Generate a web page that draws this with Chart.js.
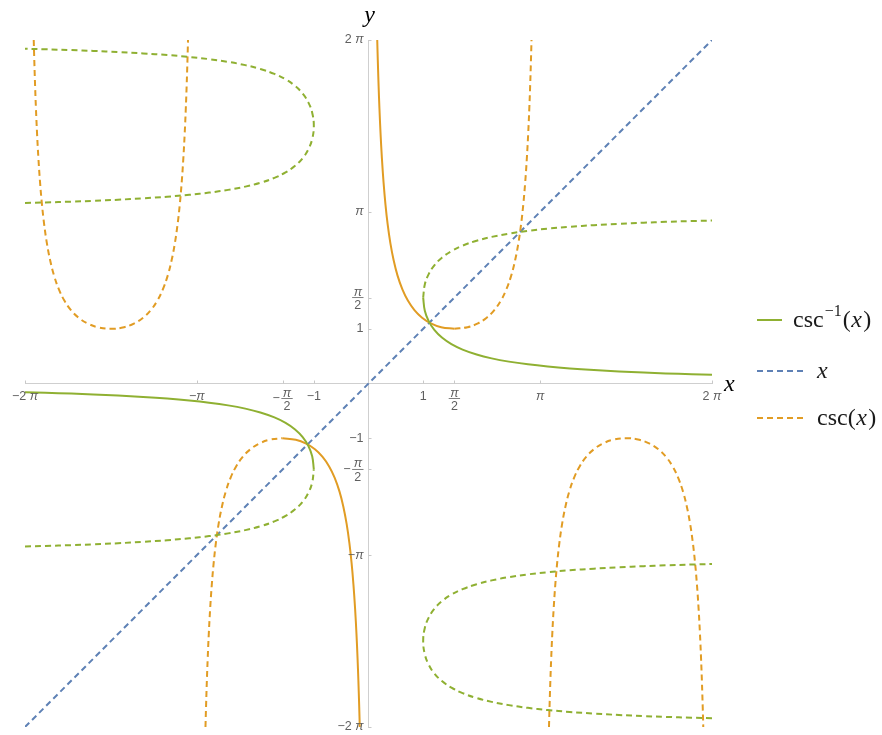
<!DOCTYPE html>
<html><head><meta charset="utf-8">
<script src="https://cdn.jsdelivr.net/npm/chart.js@4.4.0/dist/chart.umd.min.js"></script>
<style>html,body{margin:0;padding:0;background:#fff;}canvas{display:block;}</style>
</head><body>
<canvas id="c" width="882" height="735"></canvas>
<script>
// ---- data (sampled values of csc read along each branch) ----
const ARCH_A_X = [-6.1234,-6.1132,-6.0982,-6.0832,-6.0632,-6.0382,-6.0082,-5.9732,-5.9332,-5.8832,-5.8232,-5.7532,-5.6632,-5.5632,-5.4432,-5.3032,-5.1432,-4.9532,-4.7124,-4.4716,-4.2816,-4.1216,-3.9816,-3.8616,-3.7616,-3.6716,-3.6016,-3.5416,-3.4916,-3.4516,-3.4166,-3.3866,-3.3616,-3.3416,-3.3266,-3.3116,-3.3014];
const ARCH_B_X = [-2.9818,-2.9716,-2.9566,-2.9416,-2.9216,-2.8966,-2.8666,-2.8316,-2.7916,-2.7416,-2.6816,-2.6116,-2.5216,-2.4216,-2.3016,-2.1616,-2.0016,-1.8116,-1.5708,-1.33,-1.14,-0.98,-0.84,-0.72,-0.62,-0.53,-0.46,-0.4,-0.35,-0.31,-0.275,-0.245,-0.22,-0.2,-0.185,-0.17,-0.1598];
const ARCH_C_X = [0.1598,0.17,0.185,0.2,0.22,0.245,0.275,0.31,0.35,0.4,0.46,0.53,0.62,0.72,0.84,0.98,1.14,1.33,1.5708,1.8116,2.0016,2.1616,2.3016,2.4216,2.5216,2.6116,2.6816,2.7416,2.7916,2.8316,2.8666,2.8966,2.9216,2.9416,2.9566,2.9716,2.9818];
const ARCH_D_X = [3.3014,3.3116,3.3266,3.3416,3.3616,3.3866,3.4166,3.4516,3.4916,3.5416,3.6016,3.6716,3.7616,3.8616,3.9816,4.1216,4.2816,4.4716,4.7124,4.9532,5.1432,5.3032,5.4432,5.5632,5.6632,5.7532,5.8232,5.8832,5.9332,5.9732,6.0082,6.0382,6.0632,6.0832,6.0982,6.1132,6.1234];
const ARCH_POS_Y = [6.283,5.911,5.436,5.034,4.582,4.123,3.683,3.278,2.916,2.568,2.253,1.978,1.721,1.517,1.343,1.204,1.101,1.030,1,1.030,1.101,1.204,1.343,1.517,1.721,1.978,2.253,2.568,2.916,3.278,3.683,4.123,4.582,5.034,5.436,5.911,6.283];
const ARCH_NEG_Y = [-6.283,-5.911,-5.436,-5.034,-4.582,-4.123,-3.683,-3.278,-2.916,-2.568,-2.253,-1.978,-1.721,-1.517,-1.343,-1.204,-1.101,-1.030,-1,-1.030,-1.101,-1.204,-1.343,-1.517,-1.721,-1.978,-2.253,-2.568,-2.916,-3.278,-3.683,-4.123,-4.582,-5.034,-5.436,-5.911,-6.283];
const VERTEX = 18;          // index of the arch turning point
const LAST = 36;
const DIAG_X = [-6.2832, 6.2832];
const DIAG_Y = [-6.2832, 6.2832];
const AXIS_MIN = -6.2832, AXIS_MAX = 6.2832;
const X_TICK_VALUES = [-6.2832,-3.1416,-1.5708,-1,1,1.5708,3.1416,6.2832];
const X_TICK_LABELS = ['−2 π','−π','−π/2','−1','1','π/2','π','2 π'];
const Y_TICK_VALUES = [6.2832,3.1416,1.5708,1,-1,-1.5708,-3.1416,-6.2832];
const Y_TICK_LABELS = ['2 π','π','π/2','1','−1','−π/2','−π','−2 π'];

const GREEN = '#8FB032', BLUE = '#5E81B5', ORANGE = '#E19C24';

function piece(xs, ys, a, b, swap) {
  const out = [];
  for (let i = a; i <= b; i++) out.push(swap ? {x: ys[i], y: xs[i]} : {x: xs[i], y: ys[i]});
  return out;
}
function ds(data, color, dashed) {
  return {data, showLine: true, borderColor: color, borderWidth: 2, pointRadius: 0, pointHitRadius: 0,
    tension: 0.4, fill: false, borderDash: dashed ? [6,4] : [], borderCapStyle: 'butt'};
}
const datasets = [
  ds(piece(ARCH_C_X, ARCH_POS_Y, 0, VERTEX, true), GREEN, false),
  ds(piece(ARCH_B_X, ARCH_NEG_Y, VERTEX, LAST, true), GREEN, false),
  ds(piece(ARCH_C_X, ARCH_POS_Y, 0, VERTEX, false), ORANGE, false),
  ds(piece(ARCH_B_X, ARCH_NEG_Y, VERTEX, LAST, false), ORANGE, false),
  ds(piece(ARCH_A_X, ARCH_POS_Y, 0, LAST, true), GREEN, true),
  ds(piece(ARCH_B_X, ARCH_NEG_Y, 0, VERTEX, true), GREEN, true),
  ds(piece(ARCH_C_X, ARCH_POS_Y, VERTEX, LAST, true), GREEN, true),
  ds(piece(ARCH_D_X, ARCH_NEG_Y, 0, LAST, true), GREEN, true),
  ds(piece(ARCH_A_X, ARCH_POS_Y, 0, LAST, false), ORANGE, true),
  ds(piece(ARCH_B_X, ARCH_NEG_Y, 0, VERTEX, false), ORANGE, true),
  ds(piece(ARCH_C_X, ARCH_POS_Y, VERTEX, LAST, false), ORANGE, true),
  ds(piece(ARCH_D_X, ARCH_NEG_Y, 0, LAST, false), ORANGE, true),
  ds(piece(DIAG_X, DIAG_Y, 0, 1, false), BLUE, true)
];
datasets[datasets.length-1].tension = 0;

// ---- text helpers ----
const TICK_COLOR = '#5f5f5f';
const FN = '12.5px "Liberation Sans", Arial, sans-serif';
const FI = 'italic 12.5px "Liberation Sans", Arial, sans-serif';
function segs(s){ return s.split(/(π)/).filter(t => t.length); }
function rw(ctx, s){ let w = 0; for (const t of segs(s)) { ctx.font = t === 'π' ? FI : FN; w += ctx.measureText(t).width; } return w; }
function rd(ctx, s, x, y){ for (const t of segs(s)) { ctx.font = t === 'π' ? FI : FN; ctx.fillText(t, x, y); x += ctx.measureText(t).width; } }
function labelInfo(ctx, lab){
  if (lab.includes('/')) {
    const neg = lab[0] === '−';
    const body = neg ? lab.slice(1) : lab;
    const [n, d] = body.split('/');
    const nw = rw(ctx, n), dw = rw(ctx, d);
    const fw = Math.max(nw, dw) + 3;
    const sw = neg ? rw(ctx, '−') + 1.5 : 0;
    return {frac: true, neg, n, d, nw, dw, fw, sw, w: sw + fw};
  }
  return {frac: false, w: rw(ctx, lab)};
}
function drawLabel(ctx, lab, left, y, yFrac){
  const info = labelInfo(ctx, lab);
  ctx.fillStyle = TICK_COLOR;
  if (info.frac) {
    ctx.textBaseline = 'middle';
    if (info.neg) rd(ctx, '−', left, yFrac);
    const fx = left + info.sw;
    ctx.fillRect(fx, yFrac - 0.4, info.fw, 0.8);
    ctx.textBaseline = 'alphabetic';
    rd(ctx, info.n, fx + (info.fw - info.nw) / 2, yFrac - 2);
    ctx.textBaseline = 'top';
    rd(ctx, info.d, fx + (info.fw - info.dw) / 2, yFrac + 2);
  } else {
    ctx.textBaseline = 'middle';
    rd(ctx, lab, left, y);
  }
}

const decor = {
  id: 'decor',
  afterDraw(chart){
    const ctx = chart.ctx;
    const xs = chart.scales.x, ys = chart.scales.y;
    const x0 = xs.getPixelForValue(0), y0 = ys.getPixelForValue(0);
    ctx.save();
    ctx.textAlign = 'left';
    // tick marks
    ctx.strokeStyle = '#c8c8c8'; ctx.lineWidth = 1;
    ctx.beginPath();
    X_TICK_VALUES.forEach(v => { const p = Math.round(xs.getPixelForValue(v)) + 0.5; ctx.moveTo(p, y0); ctx.lineTo(p, y0 - 3); });
    Y_TICK_VALUES.forEach(v => { const p = Math.round(ys.getPixelForValue(v)) + 0.5; ctx.moveTo(x0, p); ctx.lineTo(x0 + 3, p); });
    ctx.stroke();
    // x tick labels
    X_TICK_VALUES.forEach((v, i) => {
      const lab = X_TICK_LABELS[i];
      const w = labelInfo(ctx, lab).w;
      const px = xs.getPixelForValue(v);
      drawLabel(ctx, lab, px - w / 2, y0 + 13, y0 + 15);
    });
    // y tick labels
    Y_TICK_VALUES.forEach((v, i) => {
      const lab = Y_TICK_LABELS[i];
      const w = labelInfo(ctx, lab).w;
      const py = ys.getPixelForValue(v);
      drawLabel(ctx, lab, x0 - 5 - w, py, py);
    });
    // axis titles
    ctx.fillStyle = '#000';
    ctx.font = 'italic 24px "Liberation Serif", "DejaVu Serif", serif';
    ctx.textBaseline = 'alphabetic';
    ctx.textAlign = 'center';
    ctx.fillText('y', x0 + 1, 22);
    ctx.textAlign = 'left';
    ctx.fillText('x', xs.right + 12, y0 + 7);
    // legend
    const SER = '"Liberation Serif", "DejaVu Serif", serif';
    ctx.fillStyle = '#1a1a1a';
    ctx.textBaseline = 'alphabetic';
    // row 1
    ctx.setLineDash([]); ctx.lineWidth = 2; ctx.strokeStyle = GREEN;
    ctx.beginPath(); ctx.moveTo(757, 320); ctx.lineTo(782, 320); ctx.stroke();
    let tx = 793;
    ctx.font = '24px ' + SER; ctx.fillText('csc', tx, 327); tx += ctx.measureText('csc').width + 1;
    ctx.font = '16px ' + SER; ctx.fillText('−1', tx, 316); tx += ctx.measureText('−1').width + 1;
    ctx.font = '24px ' + SER; ctx.fillText('(', tx, 327); tx += ctx.measureText('(').width + 0.5;
    ctx.font = 'italic 24px ' + SER; ctx.fillText('x', tx, 327); tx += ctx.measureText('x').width + 1.5;
    ctx.font = '24px ' + SER; ctx.fillText(')', tx, 327);
    // row 2
    ctx.setLineDash([6,4]); ctx.strokeStyle = BLUE;
    ctx.beginPath(); ctx.moveTo(757, 371); ctx.lineTo(803, 371); ctx.stroke();
    ctx.font = 'italic 24px ' + SER; ctx.fillText('x', 817, 378);
    // row 3
    ctx.strokeStyle = ORANGE;
    ctx.beginPath(); ctx.moveTo(757, 418); ctx.lineTo(803, 418); ctx.stroke();
    tx = 817;
    ctx.font = '24px ' + SER; ctx.fillText('csc(', tx, 425); tx += ctx.measureText('csc(').width + 0.5;
    ctx.font = 'italic 24px ' + SER; ctx.fillText('x', tx, 425); tx += ctx.measureText('x').width + 1.5;
    ctx.font = '24px ' + SER; ctx.fillText(')', tx, 425);
    ctx.restore();
  }
};

new Chart(document.getElementById('c'), {
  type: 'scatter',
  data: {datasets},
  options: {
    responsive: false,
    animation: false,
    events: [],
    layout: {padding: {left: 25, right: 170, top: 40, bottom: 8}},
    plugins: {legend: {display: false}, tooltip: {enabled: false}},
    scales: {
      x: {type: 'linear', min: AXIS_MIN, max: AXIS_MAX, position: {y: 0},
          grid: {display: false}, ticks: {display: false},
          border: {display: true, color: '#cfcfcf', width: 1}},
      y: {type: 'linear', min: AXIS_MIN, max: AXIS_MAX, position: {x: 0},
          grid: {display: false}, ticks: {display: false},
          border: {display: true, color: '#cfcfcf', width: 1}}
    }
  },
  plugins: [decor]
});
</script>
</body></html>
